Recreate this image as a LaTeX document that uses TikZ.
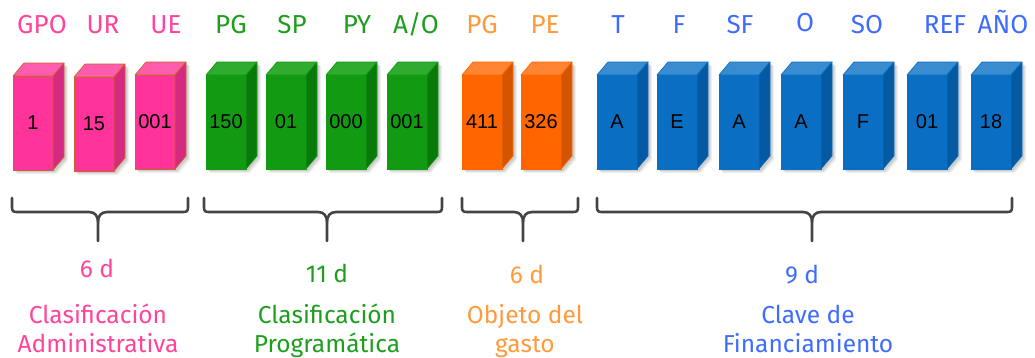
\documentclass[tikz,border=0pt]{standalone}
\usepackage{fontspec}
\setmainfont{Fira Sans}
\newfontfamily\numfont{Liberation Sans}
\usetikzlibrary{calc}
\definecolor{pinkF}{HTML}{FF3399}
\definecolor{pinkT}{HTML}{FF5CAD}
\definecolor{pinkS}{HTML}{D62A80}
\definecolor{pinkB}{HTML}{C8642A}
\definecolor{pinkX}{HTML}{FF4499}
\definecolor{greenF}{HTML}{129B12}
\definecolor{greenT}{HTML}{2FAB2F}
\definecolor{greenS}{HTML}{097A09}
\definecolor{greenB}{HTML}{129B12}
\definecolor{greenX}{HTML}{1E9E1E}
\definecolor{orangeF}{HTML}{FF6600}
\definecolor{orangeT}{HTML}{FF8533}
\definecolor{orangeS}{HTML}{D45500}
\definecolor{orangeB}{HTML}{FF6600}
\definecolor{orangeX}{HTML}{FF9A3C}
\definecolor{blueF}{HTML}{0A6FC2}
\definecolor{blueT}{HTML}{3A8CD0}
\definecolor{blueS}{HTML}{0459A3}
\definecolor{blueB}{HTML}{0A6FC2}
\definecolor{blueX}{HTML}{3F6CFF}
\definecolor{braceC}{HTML}{444444}
\tikzset{
  cubefront/.style={minimum width=40pt, minimum height=94pt, inner sep=0pt, outer sep=0pt,
    line width=0.7pt, font=\numfont\fontsize{20}{24}\selectfont, text=black},
  toplabel/.style={anchor=base, inner sep=0pt, font=\fontsize{26}{30}\selectfont},
  countlabel/.style={anchor=base, inner sep=0pt, font=\fontsize{24.5}{28}\selectfont},
  catlabel/.style={anchor=base, inner sep=0pt, align=center, font=\fontsize{24.5}{29}\selectfont},
  bracestyle/.style={draw=braceC, line width=2.6pt, line cap=round, line join=round},
  shadowlayer/.style={fill=black, fill opacity=#1, draw=none},
}
% name, left x, top y, text, colour prefix
\newcommand\cubebox[5]{%
  \foreach \s/\o in {4/0.05,3/0.07,2/0.09}{%
    \fill[shadowlayer=\o] (#2+\s,#3+\s) -- ++(11,-13) -- ++(40,0) -- ++(0,94) -- ++(-11,13) -- ++(-40,0) -- cycle;
  }
  \node[cubefront, fill=#5F, draw=#5B] (#1) at (#2+20,#3+47) {#4};
  \filldraw[fill=#5T, draw=#5B, line width=0.7pt, line join=round]
    (#1.north west) -- ++(11,-13) -- ++(40,0) -- (#1.north east) -- cycle;
  \filldraw[fill=#5S, draw=#5B, line width=0.7pt, line join=round]
    (#1.north east) -- ++(11,-13) -- ++(0,94) -- (#1.south east) -- cycle;
}
% brace: left x, right x, tip x, name
\newcommand\bracepath[4]{%
  \coordinate (#4a) at (#1,198);
  \coordinate (#4b) at (#2,198);
  \coordinate (#4t) at (#3,241);
  \draw[bracestyle] (#4a) -- ++(0,9) .. controls ++(0,4) and ++(-4,0) .. ++(5,5)
    -- ($(#4t)+(-9,-29)$) .. controls ++(6,0) and ++(0,-6) .. ($(#4t)+(0,-19)$) -- (#4t);
  \draw[bracestyle] (#4b) -- ++(0,9) .. controls ++(0,4) and ++(4,0) .. ++(-5,5)
    -- ($(#4t)+(9,-29)$) .. controls ++(-6,0) and ++(0,-6) .. ($(#4t)+(0,-19)$);
}
\begin{document}
\begin{tikzpicture}[x=1pt,y=-1pt]
\useasboundingbox (0,0) rectangle (1035,357);
% pink
\cubebox{c1}{13}{76}{1}{pink}
\cubebox{c2}{74}{77}{15}{pink}
\cubebox{c3}{135}{75}{001}{pink}
% green
\cubebox{c4}{206}{75}{150}{green}
\cubebox{c5}{266}{75}{01}{green}
\cubebox{c6}{326}{75}{000}{green}
\cubebox{c7}{387}{75}{001}{green}
% orange
\cubebox{c8}{462}{75}{411}{orange}
\cubebox{c9}{521}{75}{326}{orange}
% blue
\cubebox{c10}{597}{75}{A}{blue}
\cubebox{c11}{657}{75}{E}{blue}
\cubebox{c12}{719}{75}{A}{blue}
\cubebox{c13}{781}{75}{A}{blue}
\cubebox{c14}{843}{75}{F}{blue}
\cubebox{c15}{907}{75}{01}{blue}
\cubebox{c16}{971}{75}{18}{blue}
% top labels
\node[toplabel, text=pinkX] (l1) at (42,33) {GPO};
\node[toplabel, text=pinkX] (l2) at (103,33) {UR};
\node[toplabel, text=pinkX] (l3) at (166,33) {UE};
\node[toplabel, text=greenX] (l4) at (231,33) {PG};
\node[toplabel, text=greenX] (l5) at (292,33) {SP};
\node[toplabel, text=greenX] (l6) at (357,33) {PY};
\node[toplabel, text=greenX] (l7) at (416,33) {A/O};
\node[toplabel, text=orangeX] (l8) at (482,33) {PG};
\node[toplabel, text=orangeX] (l9) at (545,33) {PE};
\node[toplabel, text=blueX] (l10) at (618,33) {T};
\node[toplabel, text=blueX] (l11) at (679,33) {F};
\node[toplabel, text=blueX] (l12) at (740,33) {SF};
\node[toplabel, text=blueX] (l13) at (805,31) {O};
\node[toplabel, text=blueX] (l14) at (867,33) {SO};
\node[toplabel, text=blueX] (l15) at (945,33) {REF};
\node[toplabel, text=blueX] (l16) at (1003,33) {AÑO};
% braces
\bracepath{12}{188}{98}{b1}
\bracepath{204}{442}{327}{b2}
\bracepath{462}{578}{523}{b3}
\bracepath{597}{1012}{812}{b4}
% counts
\node[countlabel, text=pinkX] (n1) at (97,277) {6 d};
\node[countlabel, text=greenX] (n2) at (327,282) {11 d};
\node[countlabel, text=orangeX] (n3) at (527,283) {6 d};
\node[countlabel, text=blueX] (n4) at (802,283) {9 d};
% categories
\node[catlabel, text=pinkX] (k1) at (98,352) {Clasificación\\Administrativa};
\node[catlabel, text=greenX] (k2) at (327,352) {Clasificación\\Programática};
\node[catlabel, text=orangeX] (k3) at (525,352) {Objeto del\\gasto};
\node[catlabel, text=blueX] (k4) at (808,352) {Clave de\\Financiamiento};
\end{tikzpicture}
\end{document}
